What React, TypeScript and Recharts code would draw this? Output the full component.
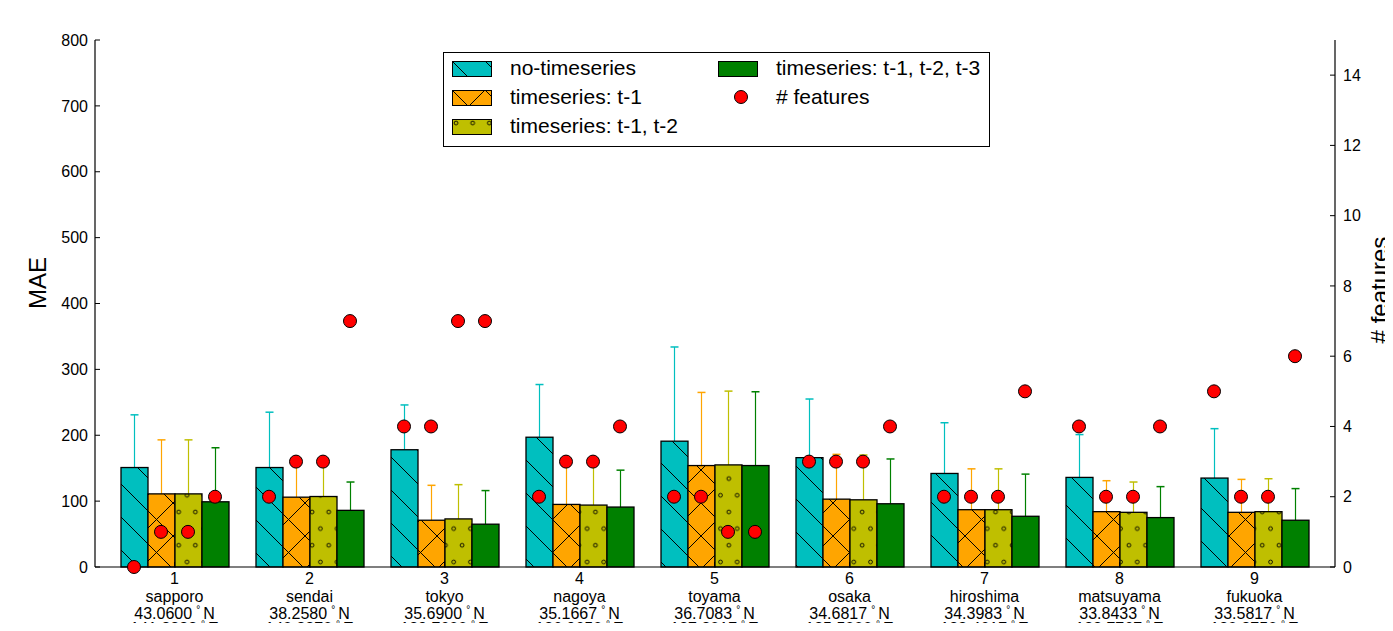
import React from "react";
import { ComposedChart, Bar, Scatter, XAxis, YAxis } from "recharts";

const groupIds = ["1", "2", "3", "4", "5", "6", "7", "8", "9"];
const cities = ["sapporo", "sendai", "tokyo", "nagoya", "toyama", "osaka", "hiroshima", "matsuyama", "fukuoka"];
const latitudes = ["43.0600", "38.2580", "35.6900", "35.1667", "36.7083", "34.6817", "34.3983", "33.8433", "33.5817"];
const longitudes = ["141.3283", "140.8270", "139.7600", "136.9650", "137.2017", "135.5000", "132.4617", "132.7767", "130.3750"];

// MAE per city and its (upper) error
const maeNoTimeseries = [151, 151, 178, 197, 191, 166, 142, 136, 135];
const errNoTimeseries = [80, 84, 68, 80, 143, 89, 77, 65, 75];
const maeT1 = [111, 106, 71, 95, 154, 103, 87, 84, 83];
const errT1 = [82, 55, 53, 65, 111, 68, 62, 47, 50];
const maeT12 = [111, 107, 73, 94, 155, 102, 87, 83, 84];
const errT12 = [82, 55, 52, 65, 112, 68, 62, 46, 50];
const maeT123 = [99, 86, 65, 91, 154, 96, 77, 75, 71];
const errT123 = [82, 43, 51, 56, 112, 68, 64, 47, 48];

// number of selected features
const featNoTimeseries = [0, 2, 4, 2, 2, 3, 2, 4, 5];
const featT1 = [1, 3, 4, 3, 2, 3, 2, 2, 2];
const featT12 = [1, 3, 7, 3, 1, 3, 2, 2, 2];
const featT123 = [2, 7, 7, 4, 1, 4, 5, 4, 6];

const maeTicks = [0, 100, 200, 300, 400, 500, 600, 700, 800];
const featureTicks = [0, 2, 4, 6, 8, 10, 12, 14];

const data = groupIds.map((id, i) => ({
  id,
  noTs: maeNoTimeseries[i],
  noTsErr: errNoTimeseries[i],
  noTsFeat: featNoTimeseries[i],
  t1: maeT1[i],
  t1Err: errT1[i],
  t1Feat: featT1[i],
  t12: maeT12[i],
  t12Err: errT12[i],
  t12Feat: featT12[i],
  t123: maeT123[i],
  t123Err: errT123[i],
  t123Feat: featT123[i],
}));

const series = [
  { key: "noTs", name: "no-timeseries", color: "#00bfbf", pattern: "hatchBack", offset: -40.5 },
  { key: "t1", name: "timeseries: t-1", color: "#ffa500", pattern: "hatchCross", offset: -13.5 },
  { key: "t12", name: "timeseries: t-1, t-2", color: "#bfbf00", pattern: "hatchDots", offset: 13.5 },
  { key: "t123", name: "timeseries: t-1, t-2, t-3", color: "#008000", pattern: null, offset: 40.5 },
];

const FONT = "'Liberation Sans', Arial, Helvetica, sans-serif";

const Patterns = () => (
  <defs>
    <pattern id="hatchBack" patternUnits="userSpaceOnUse" width={33} height={33}>
      <path d="M0,0 L33,33 M-5,28 L5,38 M28,-5 L38,5" stroke="#000" strokeWidth={1} />
    </pattern>
    <pattern id="hatchCross" patternUnits="userSpaceOnUse" width={33} height={33}>
      <path d="M0,0 L33,33 M-5,28 L5,38 M28,-5 L38,5 M33,0 L0,33 M-5,5 L5,-5 M28,38 L38,28" stroke="#000" strokeWidth={1} />
    </pattern>
    <pattern id="hatchDots" patternUnits="userSpaceOnUse" width={16.67} height={33.33}>
      <circle cx={4} cy={4} r={1.9} fill="none" stroke="#000" strokeWidth={0.9} />
      <circle cx={12.33} cy={20.67} r={1.9} fill="none" stroke="#000" strokeWidth={0.9} />
    </pattern>
  </defs>
);

const makeBarShape = (dataKey: string, color: string, pattern: string | null) => (props: any) => {
  const { x, y, width, height, payload } = props;
  const v = payload[dataKey];
  const err = payload[dataKey + "Err"];
  const pxPerUnit = v ? height / v : 0;
  const top = y - err * pxPerUnit;
  const cx = x + width / 2;
  return (
    <g>
      <line x1={cx} x2={cx} y1={y} y2={top} stroke={color} strokeWidth={1.2} />
      <line x1={cx - 4} x2={cx + 4} y1={top} y2={top} stroke={color} strokeWidth={1.5} />
      <rect x={x} y={y} width={width} height={height} fill={color} />
      {pattern && <rect x={x} y={y} width={width} height={height} fill={`url(#${pattern})`} />}
      <rect x={x} y={y} width={width} height={height} fill="none" stroke="#000" strokeWidth={1.3} />
    </g>
  );
};

const makeDot = (offset: number) => (props: any) => {
  if (props.cx == null || props.cy == null) return <g />;
  return <circle cx={props.cx + offset} cy={props.cy} r={6.5} fill="#ff0000" stroke="#000" strokeWidth={1} />;
};

const CityTick = (props: any) => {
  const { x, y, payload } = props;
  const i = groupIds.indexOf(String(payload.value));
  const common = { x, textAnchor: "middle" as const, fontSize: 16, fill: "#000", fontFamily: FONT };
  return (
    <g>
      <text {...common} y={y + 17}>{groupIds[i]}</text>
      <text {...common} y={y + 34.5}>{cities[i]}</text>
      <text {...common} y={y + 52}>
        {latitudes[i]}
        <tspan fontSize={10} dx={4} dy={-6}>°</tspan>
        <tspan dx={3} dy={6}>N</tspan>
      </text>
      <text {...common} y={y + 67}>
        {longitudes[i]}
        <tspan fontSize={10} dx={4} dy={-6}>°</tspan>
        <tspan dx={3} dy={6}>E</tspan>
      </text>
    </g>
  );
};

const AxisTitle = (props: any) => (
  <text
    x={props.cx}
    y={props.cy}
    transform={`rotate(-90 ${props.cx} ${props.cy})`}
    textAnchor="middle"
    dominantBaseline="central"
    fontSize={24}
    fill="#000"
    fontFamily={FONT}
  >
    {props.title}
  </text>
);

const Swatch = ({ color, pattern }: { color: string; pattern: string | null }) => (
  <svg width={40} height={16} style={{ position: "absolute", left: 0, top: 0 }}>
    <rect x={0.5} y={0.5} width={39} height={15} fill={color} />
    {pattern && <rect x={0.5} y={0.5} width={39} height={15} fill={`url(#${pattern})`} />}
    <rect x={0.5} y={0.5} width={39} height={15} fill="none" stroke="#000" strokeWidth={1} />
  </svg>
);

const legendText = { position: "absolute" as const, fontSize: 21, lineHeight: "24px", whiteSpace: "nowrap" as const, color: "#000" };

const ChartLegend = () => (
  <div
    style={{
      position: "absolute",
      left: 435,
      top: 44,
      width: 547,
      height: 95,
      boxSizing: "border-box",
      border: "1px solid #000",
      background: "#fff",
      fontFamily: FONT,
    }}
  >
    {series.slice(0, 3).map((s, i) => (
      <div key={s.key} style={{ position: "absolute", left: 8, top: 3 + i * 29, width: 260, height: 24 }}>
        <div style={{ position: "absolute", left: 0, top: 5 }}>
          <Swatch color={s.color} pattern={s.pattern} />
        </div>
        <span style={{ ...legendText, left: 58, top: 0 }}>{s.name}</span>
      </div>
    ))}
    <div style={{ position: "absolute", left: 274, top: 3, width: 270, height: 24 }}>
      <div style={{ position: "absolute", left: 0, top: 5 }}>
        <Swatch color={series[3].color} pattern={null} />
      </div>
      <span style={{ ...legendText, left: 58, top: 0 }}>{series[3].name}</span>
    </div>
    <div style={{ position: "absolute", left: 274, top: 32, width: 270, height: 24 }}>
      <svg width={40} height={24} style={{ position: "absolute", left: 0, top: 0 }}>
        <circle cx={23} cy={12} r={6.5} fill="#ff0000" stroke="#000" strokeWidth={1} />
      </svg>
      <span style={{ ...legendText, left: 58, top: 0 }}># features</span>
    </div>
  </div>
);

export default function App() {
  return (
    <div style={{ position: "relative", width: 1385, height: 623, marginBottom: -8, overflow: "hidden", fontFamily: FONT }}>
      <ComposedChart
        width={1385}
        height={623}
        data={data}
        margin={{ top: 32, right: 0, bottom: 0, left: 0 }}
        barGap={0}
      >
        <Patterns />
        <XAxis
          xAxisId="bottom"
          dataKey="id"
          type="category"
          orientation="bottom"
          height={64}
          padding={{ left: 12, right: 13 }}
          axisLine={{ stroke: "#000", strokeWidth: 1.2 }}
          tickLine={{ stroke: "#000" }}
          tickSize={-5}
          tickMargin={5}
          tick={<CityTick />}
          interval={0}
        />
        <XAxis
          xAxisId="top"
          dataKey="id"
          type="category"
          orientation="top"
          height={0}
          padding={{ left: 12, right: 13 }}
          axisLine={{ stroke: "#000", strokeWidth: 1.2 }}
          tickLine={{ stroke: "#000" }}
          tickSize={-5}
          tick={() => <g />}
          interval={0}
        />
        <YAxis
          yAxisId="left"
          orientation="left"
          width={87}
          domain={[0, 800]}
          ticks={maeTicks}
          interval={0}
          axisLine={{ stroke: "#000", strokeWidth: 1.2 }}
          tickLine={{ stroke: "#000" }}
          tickSize={-5}
          tickMargin={12}
          tick={{ fill: "#000", fontSize: 16, fontFamily: FONT }}
          label={<AxisTitle cx={29} cy={275} title="MAE" />}
        />
        <YAxis
          yAxisId="right"
          orientation="right"
          width={58}
          domain={[0, 15]}
          ticks={featureTicks}
          interval={0}
          axisLine={{ stroke: "#000", strokeWidth: 1.2 }}
          tickLine={{ stroke: "#000" }}
          tickSize={-5}
          tickMargin={13}
          tick={{ fill: "#000", fontSize: 16, fontFamily: FONT }}
          label={<AxisTitle cx={1371} cy={282} title="# features" />}
        />
        {series.map((s) => (
          <Bar
            key={s.key}
            xAxisId="bottom"
            yAxisId="left"
            dataKey={s.key}
            name={s.name}
            barSize={27}
            isAnimationActive={false}
            shape={makeBarShape(s.key, s.color, s.pattern)}
          />
        ))}
        {series.map((s) => (
          <Scatter
            key={s.key + "Feat"}
            xAxisId="bottom"
            yAxisId="right"
            dataKey={s.key + "Feat"}
            isAnimationActive={false}
            shape={makeDot(s.offset)}
          />
        ))}
      </ComposedChart>
      <ChartLegend />
    </div>
  );
}
